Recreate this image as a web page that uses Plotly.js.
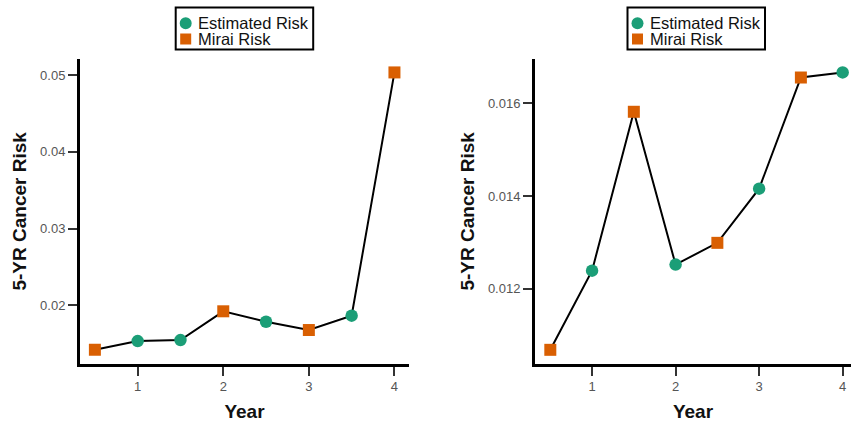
<!DOCTYPE html>
<html>
<head>
<meta charset="utf-8">
<script src="https://cdn.plot.ly/plotly-3.0.1.min.js"></script>
<style>
  html, body { margin: 0; padding: 0; background: #ffffff; }
  #chart { width: 851px; height: 425px; }
</style>
</head>
<body>
<div id="chart"></div>
<script>
// Screening timeline: estimated risk between visits, Mirai risk at visits
const leftEstYears = [1, 1.5, 2.5, 3.5];
const leftEstRisk = [0.01534, 0.01547, 0.01786, 0.01865];
const leftMiraiYears = [0.5, 2, 3, 4];
const leftMiraiRisk = [0.01421, 0.01922, 0.01678, 0.05035];

const rightEstYears = [1, 2, 3, 4];
const rightEstRisk = [0.01239, 0.01252, 0.01416, 0.01667];
const rightMiraiYears = [0.5, 1.5, 2.5, 3.5];
const rightMiraiRisk = [0.01068, 0.01582, 0.01299, 0.01656];

const seriesNames = ['Estimated Risk', 'Mirai Risk'];

const estColor = '#1b9e77';
const miraiColor = '#d95f02';
const fontFamily = 'Liberation Sans, Arial, Helvetica, sans-serif';

const W = 851, H = 425;
const px = x => x / W;          // pixel -> paper x
const py = y => 1 - y / H;      // pixel -> paper y

// Merge both series in time order for the connecting line
function timeline(xa, ya, xb, yb) {
  const pts = xa.map((x, i) => [x, ya[i]]).concat(xb.map((x, i) => [x, yb[i]]));
  pts.sort((a, b) => a[0] - b[0]);
  return { x: pts.map(p => p[0]), y: pts.map(p => p[1]) };
}

function panelTraces(estX, estY, mirX, mirY, xa, ya) {
  const line = timeline(estX, estY, mirX, mirY);
  return [
    { x: line.x, y: line.y, xaxis: xa, yaxis: ya, mode: 'lines',
      line: { color: '#000000', width: 2 }, showlegend: false, hoverinfo: 'skip' },
    { x: estX, y: estY, xaxis: xa, yaxis: ya, mode: 'markers', name: seriesNames[0],
      marker: { symbol: 'circle', size: 12.5, color: estColor }, showlegend: false, cliponaxis: false },
    { x: mirX, y: mirY, xaxis: xa, yaxis: ya, mode: 'markers', name: seriesNames[1],
      marker: { symbol: 'square', size: 12, color: miraiColor }, showlegend: false, cliponaxis: false }
  ];
}

const data = []
  .concat(panelTraces(leftEstYears, leftEstRisk, leftMiraiYears, leftMiraiRisk, 'x', 'y'))
  .concat(panelTraces(rightEstYears, rightEstRisk, rightMiraiYears, rightMiraiRisk, 'x2', 'y2'));

const tickFont = { family: fontFamily, size: 13, color: '#555555' };
const titleFont = { family: fontFamily, size: 19, color: '#111111' };

function xAxis(domain, range, anchor) {
  return {
    domain: domain, range: range, anchor: anchor,
    tick0: 0, dtick: 1,
    showline: true, linecolor: '#000000', linewidth: 3,
    ticks: 'outside', ticklen: 9, tickwidth: 2, tickcolor: '#333333',
    showgrid: false, zeroline: false,
    tickfont: tickFont,
    title: { text: '<b>Year</b>', font: titleFont, standoff: 12 }
  };
}

function yAxis(domain, range, dtick, anchor) {
  return {
    domain: domain, range: range, anchor: anchor,
    tick0: 0, dtick: dtick,
    showline: true, linecolor: '#000000', linewidth: 3,
    ticks: 'outside', ticklen: 9, tickwidth: 2, tickcolor: '#333333',
    showgrid: false, zeroline: false,
    tickfont: tickFont,
    title: { text: '<b>5-YR Cancer Risk</b>', font: titleFont, standoff: 9 }
  };
}

// Compact boxed key above each panel: frame, two symbols and their labels
const shapes = [];
const annotations = [];
function addKey(left) {
  const top = 7.5, bottom = 49.5, width = 137.5;
  const symX = left + 10, textX = left + 21;
  const rowY = [23.3, 39];
  shapes.push({ type: 'rect', xref: 'paper', yref: 'paper',
    x0: px(left), x1: px(left + width), y0: py(bottom), y1: py(top),
    line: { color: '#000000', width: 2 }, fillcolor: '#ffffff' });
  shapes.push({ type: 'circle', xref: 'paper', yref: 'paper',
    x0: px(symX - 6), x1: px(symX + 6), y0: py(rowY[0] + 6), y1: py(rowY[0] - 6),
    line: { width: 0 }, fillcolor: estColor });
  shapes.push({ type: 'rect', xref: 'paper', yref: 'paper',
    x0: px(symX - 5.5), x1: px(symX + 5.5), y0: py(rowY[1] + 5.5), y1: py(rowY[1] - 5.5),
    line: { width: 0 }, fillcolor: miraiColor });
  seriesNames.forEach((name, i) => {
    annotations.push({ xref: 'paper', yref: 'paper', x: px(textX), y: py(rowY[i]),
      xanchor: 'left', yanchor: 'middle', valign: 'middle', height: 15.5,
      showarrow: false, text: name, borderpad: 0,
      font: { family: fontFamily, size: 16.5, color: '#111111' } });
  });
}
addKey(175.7);
addKey(627.5);

const yDomain = [0.1442, 0.8612];

const layout = {
  width: W, height: H,
  margin: { l: 0, r: 0, t: 0, b: 0 },
  paper_bgcolor: '#ffffff', plot_bgcolor: '#ffffff',
  font: { family: fontFamily },
  showlegend: false,
  xaxis: xAxis([0.094, 0.4806], [0.326, 4.17], 'y'),
  yaxis: yAxis(yDomain, [0.01239, 0.0521], 0.01, 'x'),
  xaxis2: xAxis([0.6287, 1], [0.317, 4.1], 'y2'),
  yaxis2: yAxis(yDomain, [0.01038, 0.01696], 0.002, 'x2'),
  shapes: shapes,
  annotations: annotations
};

Plotly.newPlot('chart', data, layout, { displayModeBar: false, staticPlot: true });
</script>
</body>
</html>
